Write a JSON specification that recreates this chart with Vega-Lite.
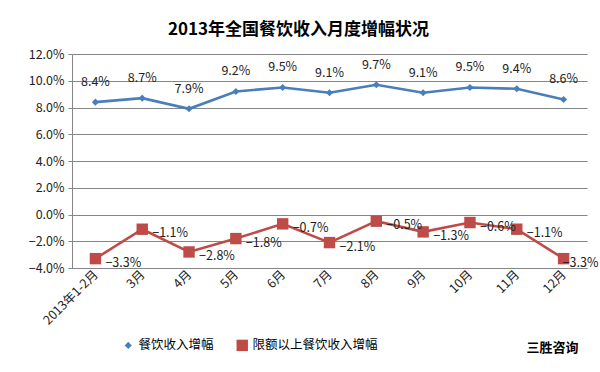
{
  "$schema": "https://vega.github.io/schema/vega-lite/v6.json",
  "autosize": "none",
  "width": 515,
  "height": 214,
  "padding": {"left": 72, "top": 54, "right": 13, "bottom": 104},
  "background": "white",
  "title": {
    "text": "2013年全国餐饮收入月度增幅状况",
    "font": "Noto Sans CJK SC",
    "fontSize": 17,
    "fontWeight": "bold",
    "color": "#000000",
    "anchor": "middle",
    "dx": -31,
    "offset": 9
  },
  "config": {
    "view": {"stroke": null},
    "font": "Noto Sans CJK SC"
  },
  "data": {
    "values": [
      {"month": "2013年1-2月", "series": "餐饮收入增幅", "value": 0.084},
      {"month": "3月", "series": "餐饮收入增幅", "value": 0.087},
      {"month": "4月", "series": "餐饮收入增幅", "value": 0.079},
      {"month": "5月", "series": "餐饮收入增幅", "value": 0.092},
      {"month": "6月", "series": "餐饮收入增幅", "value": 0.095},
      {"month": "7月", "series": "餐饮收入增幅", "value": 0.091},
      {"month": "8月", "series": "餐饮收入增幅", "value": 0.097},
      {"month": "9月", "series": "餐饮收入增幅", "value": 0.091},
      {"month": "10月", "series": "餐饮收入增幅", "value": 0.095},
      {"month": "11月", "series": "餐饮收入增幅", "value": 0.094},
      {"month": "12月", "series": "餐饮收入增幅", "value": 0.086},
      {"month": "2013年1-2月", "series": "限额以上餐饮收入增幅", "value": -0.033},
      {"month": "3月", "series": "限额以上餐饮收入增幅", "value": -0.011},
      {"month": "4月", "series": "限额以上餐饮收入增幅", "value": -0.028},
      {"month": "5月", "series": "限额以上餐饮收入增幅", "value": -0.018},
      {"month": "6月", "series": "限额以上餐饮收入增幅", "value": -0.007},
      {"month": "7月", "series": "限额以上餐饮收入增幅", "value": -0.021},
      {"month": "8月", "series": "限额以上餐饮收入增幅", "value": -0.005},
      {"month": "9月", "series": "限额以上餐饮收入增幅", "value": -0.013},
      {"month": "10月", "series": "限额以上餐饮收入增幅", "value": -0.006},
      {"month": "11月", "series": "限额以上餐饮收入增幅", "value": -0.011},
      {"month": "12月", "series": "限额以上餐饮收入增幅", "value": -0.033}
    ]
  },
  "encoding": {
    "x": {
      "field": "month",
      "type": "nominal",
      "sort": ["2013年1-2月", "3月", "4月", "5月", "6月", "7月", "8月", "9月", "10月", "11月", "12月"],
      "scale": {"paddingInner": 0, "paddingOuter": 0},
      "axis": {
        "title": "三胜咨询",
        "titleFont": "Noto Sans CJK SC",
        "titleFontSize": 13,
        "titleFontWeight": "bold",
        "titleColor": "#000000",
        "titleAnchor": null,
        "titleX": 480,
        "titleY": 79,
        "titleAlign": "center",
        "titleBaseline": "middle",
        "labelAngle": -45,
        "labelAlign": "right",
        "labelBaseline": "middle",
        "labelFontSize": 12.5,
        "labelColor": "#222222",
        "labelPadding": 4,
        "domainColor": "#868686",
        "ticks": false,
        "grid": false
      }
    },
    "y": {
      "field": "value",
      "type": "quantitative",
      "scale": {"domain": [-0.04, 0.12], "nice": false, "zero": false},
      "axis": {
        "title": null,
        "format": ".1%",
        "values": [-0.04, -0.02, 0, 0.02, 0.04, 0.06, 0.08, 0.1, 0.12],
        "labelFontSize": 12.5,
        "labelColor": "#222222",
        "labelPadding": 4,
        "tickSize": 4,
        "tickColor": "#868686",
        "domainColor": "#868686",
        "gridColor": "#868686",
        "gridWidth": 1
      }
    },
    "color": {
      "field": "series",
      "type": "nominal",
      "scale": {"domain": ["餐饮收入增幅", "限额以上餐饮收入增幅"], "range": ["#4A7EBB", "#BE4B48"]},
      "legend": {
        "title": null,
        "orient": "none",
        "legendX": 50,
        "legendY": 285,
        "direction": "horizontal",
        "labelFontSize": 12.5,
        "labelColor": "#000000",
        "columnPadding": 22,
        "symbolSize": 70,
        "symbolStrokeWidth": 0
      }
    }
  },
  "layer": [
    {
      "mark": {"type": "line", "strokeWidth": 2.6}
    },
    {
      "mark": {"type": "point", "filled": true, "opacity": 1},
      "encoding": {
        "shape": {
          "field": "series",
          "type": "nominal",
          "scale": {"domain": ["餐饮收入增幅", "限额以上餐饮收入增幅"], "range": ["diamond", "square"]},
          "legend": {
            "title": null,
            "orient": "none",
            "legendX": 50,
            "legendY": 285,
            "direction": "horizontal",
            "labelFontSize": 12.5,
            "labelColor": "#000000",
            "columnPadding": 22,
            "symbolSize": 70,
            "symbolStrokeWidth": 0
          }
        },
        "size": {
          "field": "series",
          "type": "nominal",
          "scale": {"domain": ["餐饮收入增幅", "限额以上餐饮收入增幅"], "range": [50, 130]},
          "legend": null
        }
      }
    },
    {
      "transform": [{"filter": "datum.series === '餐饮收入增幅'"}],
      "mark": {"type": "text", "dy": -20, "fontSize": 12.5, "color": "#222222"},
      "encoding": {
        "color": {"value": "#222222"},
        "text": {"field": "value", "type": "quantitative", "format": ".1%"}
      }
    },
    {
      "transform": [{"filter": "datum.series === '限额以上餐饮收入增幅' && datum.month !== '12月'"}],
      "mark": {"type": "text", "dx": 10, "dy": 4, "align": "left", "fontSize": 12.5, "color": "#222222"},
      "encoding": {
        "color": {"value": "#222222"},
        "text": {"field": "value", "type": "quantitative", "format": ".1%"}
      }
    },
    {
      "transform": [{"filter": "datum.series === '限额以上餐饮收入增幅' && datum.month === '12月'"}],
      "mark": {"type": "text", "dx": -1, "dy": 4, "align": "left", "fontSize": 12.5, "color": "#222222"},
      "encoding": {
        "color": {"value": "#222222"},
        "text": {"field": "value", "type": "quantitative", "format": ".1%"}
      }
    }
  ]
}
